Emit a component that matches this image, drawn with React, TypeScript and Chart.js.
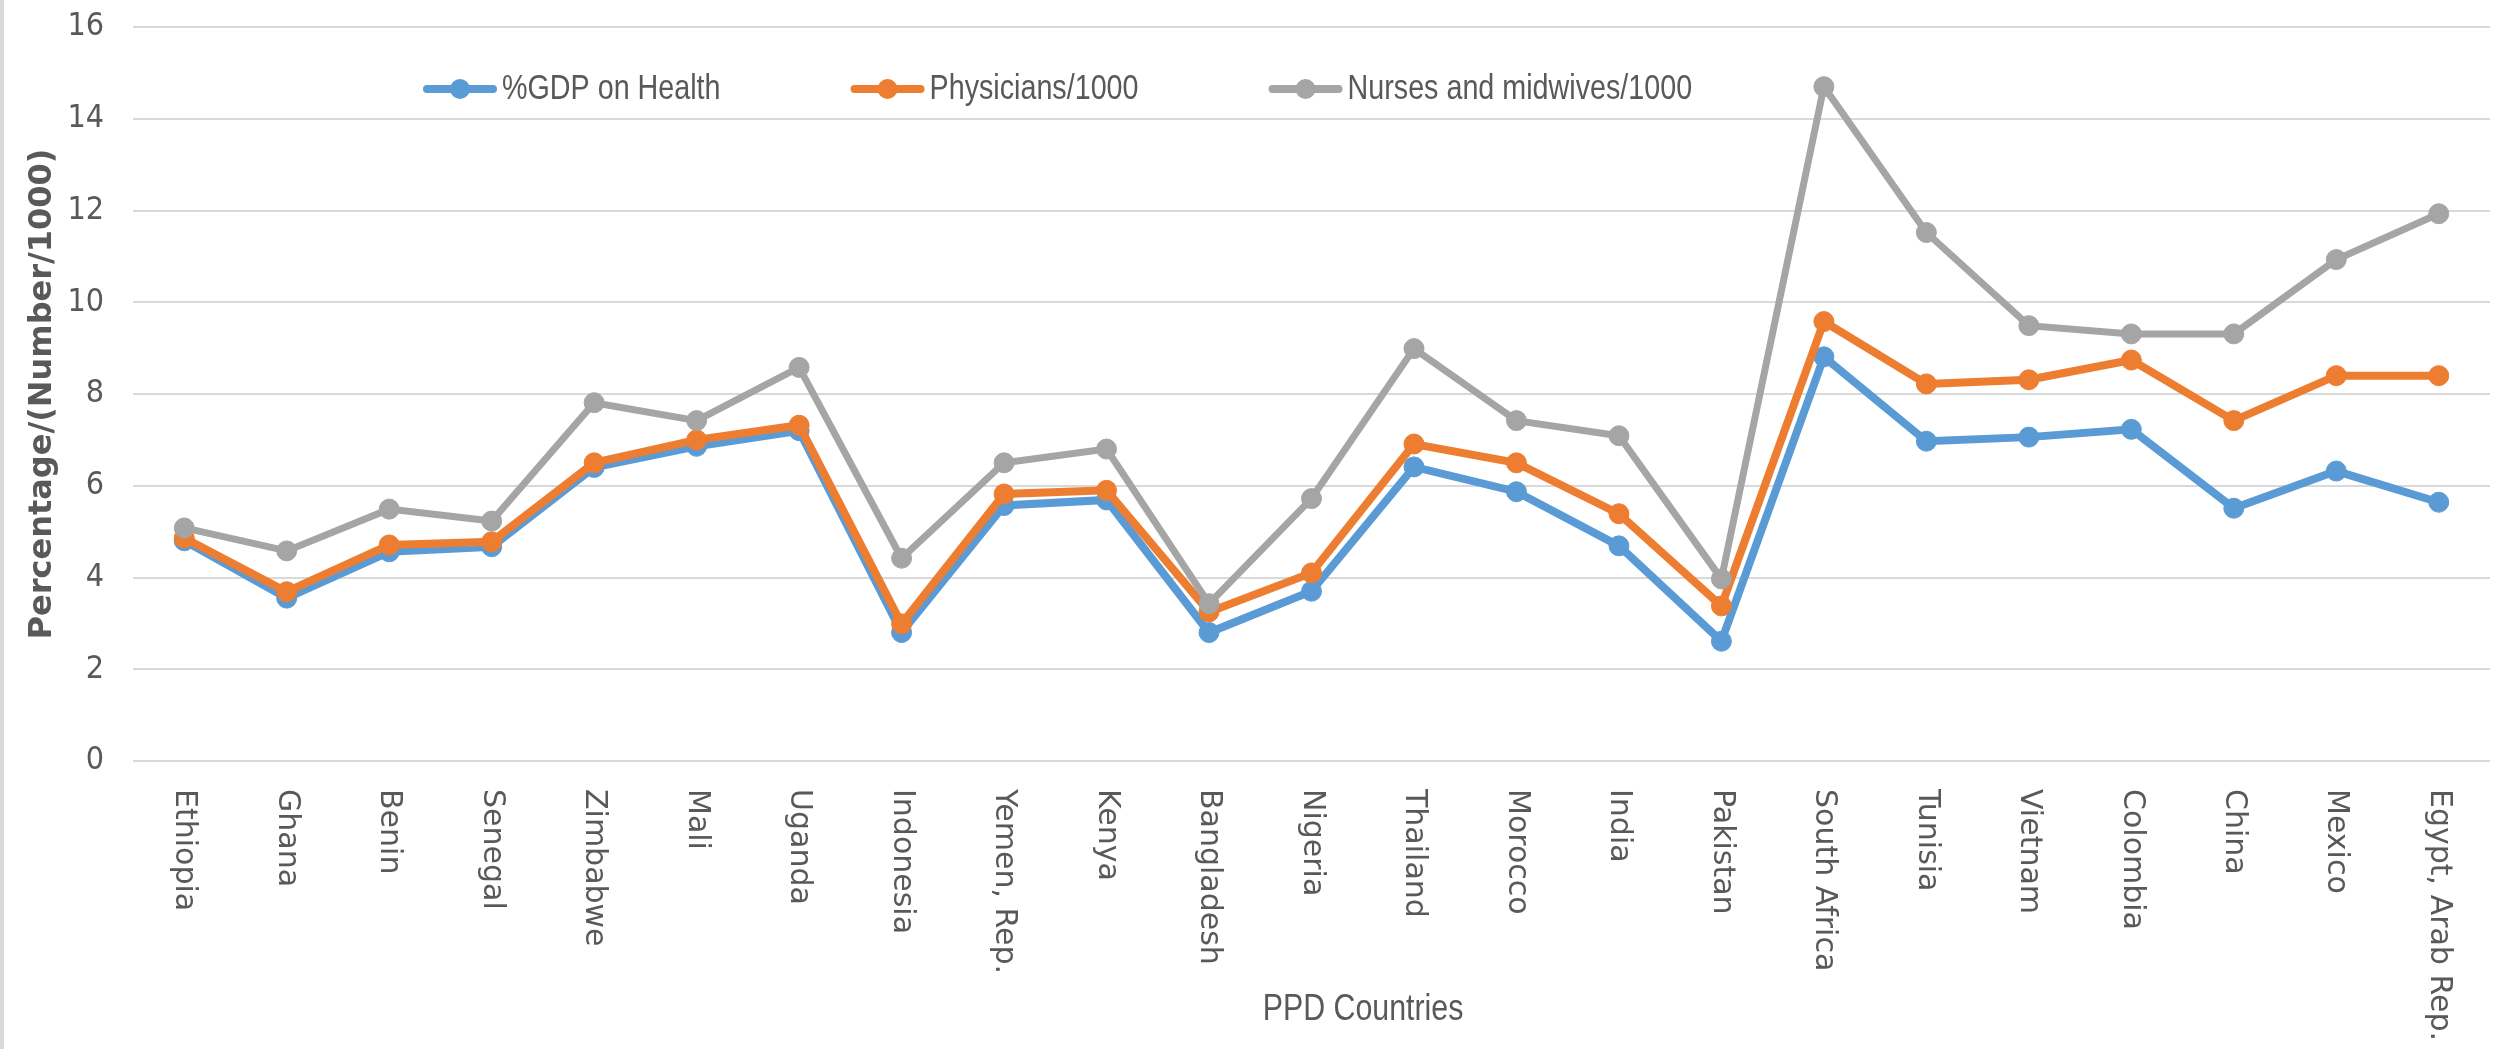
import React, { useEffect, useRef } from "react";
import { Chart, registerables } from "chart.js";

Chart.register(...registerables);

// Countries on the x axis
const countries = [
  "Ethiopia", "Ghana", "Benin", "Senegal", "Zimbabwe", "Mali", "Uganda",
  "Indonesia", "Yemen, Rep.", "Kenya", "Bangladesh", "Nigeria", "Thailand",
  "Morocco", "India", "Pakistan", "South Africa", "Tunisia", "Vietnam",
  "Colombia", "China", "Mexico", "Egypt, Arab Rep.",
];

// Series values
const gdpOnHealth = [
  4.8, 3.55, 4.56, 4.67, 6.4, 6.86, 7.2, 2.8, 5.57, 5.69, 2.8, 3.7, 6.41,
  5.87, 4.69, 2.61, 8.81, 6.97, 7.06, 7.23, 5.51, 6.32, 5.64,
];
const physicians = [
  4.86, 3.69, 4.71, 4.78, 6.5, 7.0, 7.32, 2.99, 5.82, 5.9, 3.25, 4.1, 6.91,
  6.5, 5.39, 3.38, 9.58, 8.22, 8.31, 8.74, 7.42, 8.4, 8.4,
];
const nursesMidwives = [
  5.08, 4.58, 5.49, 5.23, 7.81, 7.42, 8.58, 4.42, 6.5, 6.8, 3.43, 5.72, 8.99,
  7.42, 7.09, 3.97, 14.7, 11.52, 9.49, 9.31, 9.31, 10.93, 11.93,
];

const seriesNames = ["%GDP on Health", "Physicians/1000", "Nurses and midwives/1000"];
const seriesColors = ["#5B9BD5", "#ED7D31", "#A5A5A5"];

// Value axis range
const yMin = 0;
const yMax = 16;
const yStep = 2;

const xTitle = "PPD Countries";
const yTitle = "Percentage/(Number/1000)";

const TEXT = "#595959";
const GRID = "#D9D9D9";
const NARROW = "'DejaVu Sans Condensed', 'Liberation Sans', sans-serif";
const SANS = "'Liberation Sans', Arial, sans-serif";
const SQUEEZE = 0.82;

// Draws text horizontally condensed; returns the drawn width
function narrowText(ctx: CanvasRenderingContext2D, text: string, x: number, y: number, align: CanvasTextAlign) {
  ctx.save();
  ctx.translate(x, y);
  ctx.scale(SQUEEZE, 1);
  ctx.textAlign = align;
  ctx.fillText(text, 0, 0);
  const w = ctx.measureText(text).width * SQUEEZE;
  ctx.restore();
  return w;
}

// Left frame edge, rotated category labels, axis title and legend
const decorations = {
  id: "decorations",
  beforeDraw(chart: any) {
    const { ctx, height } = chart;
    ctx.save();
    ctx.fillStyle = GRID;
    ctx.fillRect(0, 0, 4, height);
    ctx.restore();
  },
  afterDraw(chart: any) {
    const { ctx } = chart;
    const xScale = chart.scales.x;
    ctx.save();

    // category labels, reading top to bottom
    ctx.fillStyle = TEXT;
    ctx.font = "30px 'DejaVu Sans', sans-serif";
    ctx.textAlign = "left";
    ctx.textBaseline = "middle";
    chart.data.labels.forEach((label: string, i: number) => {
      const x = xScale.getPixelForValue(i);
      ctx.save();
      ctx.translate(x, 789);
      ctx.rotate(Math.PI / 2);
      ctx.fillText(label, 0, 0);
      ctx.restore();
    });

    // x axis title
    ctx.font = `37px ${SANS}`;
    narrowText(ctx, xTitle, 1363, 1010, "center");

    // legend
    ctx.font = `35px ${SANS}`;
    let lx = 423;
    const ly = 89;
    chart.data.datasets.forEach((ds: any) => {
      ctx.strokeStyle = ds.borderColor;
      ctx.lineWidth = 8;
      ctx.lineCap = "round";
      ctx.beginPath();
      ctx.moveTo(lx + 4, ly);
      ctx.lineTo(lx + 70, ly);
      ctx.stroke();
      ctx.fillStyle = ds.borderColor;
      ctx.beginPath();
      ctx.arc(lx + 37, ly, 10, 0, Math.PI * 2);
      ctx.fill();
      ctx.fillStyle = TEXT;
      const tx = lx + 79;
      const w = narrowText(ctx, ds.label, tx, ly, "left");
      lx = tx + w + 130;
    });

    ctx.restore();
  },
};

export default function App() {
  const canvasRef = useRef<HTMLCanvasElement | null>(null);

  useEffect(() => {
    if (!canvasRef.current) return;
    const seriesData = [gdpOnHealth, physicians, nursesMidwives];
    const widths = [8, 8, 7];
    const chart = new Chart(canvasRef.current, {
      type: "line",
      data: {
        labels: countries,
        datasets: seriesData.map((d, i) => ({
          label: seriesNames[i],
          data: d,
          borderColor: seriesColors[i],
          backgroundColor: seriesColors[i],
          pointBackgroundColor: seriesColors[i],
          pointBorderColor: seriesColors[i],
          pointBorderWidth: 1,
          pointRadius: 10,
          borderWidth: widths[i],
          tension: 0,
          fill: false,
          order: 3 - i,
        })),
      },
      options: {
        responsive: false,
        animation: false,
        layout: { padding: { top: 27, right: 13, bottom: 288, left: 0 } },
        plugins: {
          legend: { display: false },
          tooltip: { enabled: false },
        },
        scales: {
          x: {
            type: "category",
            offset: true,
            grid: { display: false, drawTicks: false },
            border: { display: false },
            ticks: { display: false },
          },
          y: {
            min: yMin,
            max: yMax,
            ticks: {
              stepSize: yStep,
              color: TEXT,
              padding: 0,
              font: { family: NARROW, size: 32 },
            },
            grid: {
              color: GRID,
              lineWidth: 2,
              drawTicks: true,
              tickLength: 29,
              tickColor: "rgba(0,0,0,0)",
            },
            border: { display: false },
            title: {
              display: true,
              text: yTitle,
              color: TEXT,
              font: { family: "'DejaVu Sans', sans-serif", size: 32, weight: "bold" },
              padding: { top: 23, bottom: 0 },
            },
            afterFit(scale: any) {
              scale.width = 133;
            },
          },
        },
      },
      plugins: [decorations],
    });
    return () => chart.destroy();
  }, []);

  return (
    <div style={{ position: "fixed", left: 0, top: 0, width: 2503, height: 1049, background: "#fff" }}>
      <canvas ref={canvasRef} width={2503} height={1049} />
    </div>
  );
}
